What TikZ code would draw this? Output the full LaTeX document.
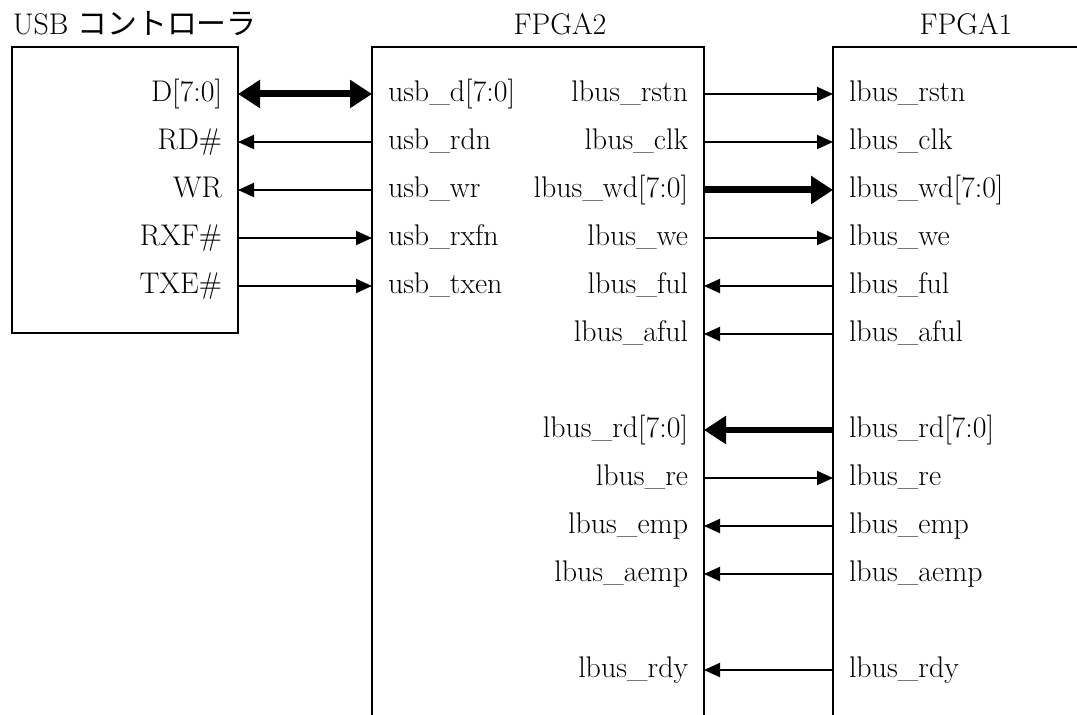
\documentclass[tikz,border=0pt]{standalone}
\usepackage{fontspec}
\newfontfamily\jpfont{Noto Sans CJK JP}
\usetikzlibrary{arrows.meta}
\tikzset{
  lbl/.style={inner xsep=0.32cm, inner ysep=0pt, outer sep=0pt, text height=0.9em, text depth=0pt, font=\fontsize{17}{20}\selectfont},
  lblr/.style={lbl,anchor=east},
  lbll/.style={lbl,anchor=west},
  ttl/.style={anchor=base, inner sep=0pt, font=\fontsize{17}{20}\selectfont},
  sig/.style={line width=0.04cm,-{Triangle[length=0.32cm,width=0.28cm]}},
  bus/.style={line width=0.14cm,-{Triangle[length=0.44cm,width=0.54cm]}},
  bibus/.style={line width=0.14cm,{Triangle[length=0.44cm,width=0.54cm]}-{Triangle[length=0.44cm,width=0.54cm]}},
}
\begin{document}
\begin{tikzpicture}[x=0.02cm,y=-0.02cm,line width=0.04cm]
\useasboundingbox (0,0) rectangle (1077,715);
\node[ttl,anchor=base west] (tusb) at (12,35) {USB {\jpfont コントローラ}};
\node[ttl] (tfpga2) at (560,35) {FPGA2};
\node[ttl] (tfpga1) at (966,35) {FPGA1};
\draw (12,47) rectangle (238,333);
\draw (372,715) -- (372,47) -- (704,47) -- (704,715);
\draw (833,715) -- (833,47) -- (1077,47);
\node[lblr] (d) at (238,94) {D[7:0]};
\node[lblr] (rd) at (238,142) {RD\#};
\node[lblr] (wr) at (238,190) {WR};
\node[lblr] (rxf) at (238,238) {RXF\#};
\node[lblr] (txe) at (238,286) {TXE\#};
\node[lbll] (usbd) at (372,94) {usb\_d[7:0]};
\node[lbll] (usbrdn) at (372,142) {usb\_rdn};
\node[lbll] (usbwr) at (372,190) {usb\_wr};
\node[lbll] (usbrxfn) at (372,238) {usb\_rxfn};
\node[lbll] (usbtxen) at (372,286) {usb\_txen};
\node[lblr] (rstn2) at (704,94) {lbus\_rstn};
\node[lblr] (clk2) at (704,142) {lbus\_clk};
\node[lblr] (wd2) at (704,190) {lbus\_wd[7:0]};
\node[lblr] (we2) at (704,238) {lbus\_we};
\node[lblr] (ful2) at (704,286) {lbus\_ful};
\node[lblr] (aful2) at (704,334) {lbus\_aful};
\node[lblr] (rdd2) at (704,430) {lbus\_rd[7:0]};
\node[lblr] (re2) at (704,478) {lbus\_re};
\node[lblr] (emp2) at (704,526) {lbus\_emp};
\node[lblr] (aemp2) at (704,574) {lbus\_aemp};
\node[lblr] (rdy2) at (704,670) {lbus\_rdy};
\node[lbll] (rstn1) at (833,94) {lbus\_rstn};
\node[lbll] (clk1) at (833,142) {lbus\_clk};
\node[lbll] (wd1) at (833,190) {lbus\_wd[7:0]};
\node[lbll] (we1) at (833,238) {lbus\_we};
\node[lbll] (ful1) at (833,286) {lbus\_ful};
\node[lbll] (aful1) at (833,334) {lbus\_aful};
\node[lbll] (rdd1) at (833,430) {lbus\_rd[7:0]};
\node[lbll] (re1) at (833,478) {lbus\_re};
\node[lbll] (emp1) at (833,526) {lbus\_emp};
\node[lbll] (aemp1) at (833,574) {lbus\_aemp};
\node[lbll] (rdy1) at (833,670) {lbus\_rdy};
\draw[bibus] (d.east) -- (usbd.west);
\draw[sig] (usbrdn.west) -- (rd.east);
\draw[sig] (usbwr.west) -- (wr.east);
\draw[sig] (rxf.east) -- (usbrxfn.west);
\draw[sig] (txe.east) -- (usbtxen.west);
\draw[sig] (rstn2.east) -- (rstn1.west);
\draw[sig] (clk2.east) -- (clk1.west);
\draw[bus] (wd2.east) -- (wd1.west);
\draw[sig] (we2.east) -- (we1.west);
\draw[sig] (ful1.west) -- (ful2.east);
\draw[sig] (aful1.west) -- (aful2.east);
\draw[bus] (rdd1.west) -- (rdd2.east);
\draw[sig] (re2.east) -- (re1.west);
\draw[sig] (emp1.west) -- (emp2.east);
\draw[sig] (aemp1.west) -- (aemp2.east);
\draw[sig] (rdy1.west) -- (rdy2.east);
\end{tikzpicture}
\end{document}
